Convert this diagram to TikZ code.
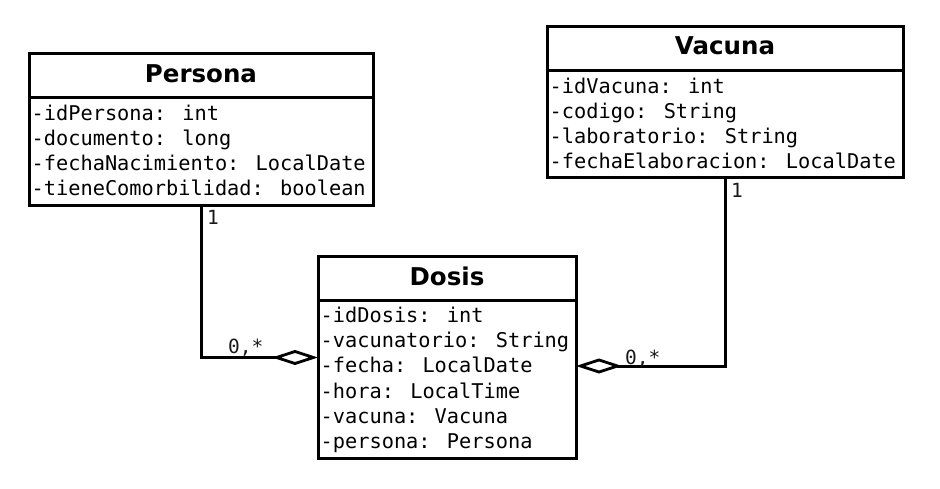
\documentclass[tikz,border=0pt]{standalone}
\usepackage{fontspec}
\newfontfamily\attrfont{DejaVu Sans Mono}
\newfontfamily\titlefont{DejaVu Sans}
\usetikzlibrary{arrows.meta}
\tikzset{
  classbox/.style={draw, line width=3pt, inner sep=0pt, outer sep=0pt, anchor=north west, fill=white},
  divider/.style={line width=3pt},
  ctitle/.style={inner sep=0pt, anchor=base, font=\titlefont\bfseries\fontsize{24.5}{28}\selectfont},
  attr/.style={inner sep=0pt, anchor=base west, font=\attrfont\fontsize{20.3}{25}\selectfont},
  mult/.style={inner sep=0pt, anchor=base west, text=black!90, font=\attrfont\fontsize{19.5}{22}\selectfont},
  assoc/.style={line width=3pt, line join=miter, -{Diamond[open, length=46pt, width=15pt, line width=2.8pt]}}
}
\begin{document}
\begin{tikzpicture}[x=1pt, y=-1pt]
\useasboundingbox[fill=white] (0,0) rectangle (940,489);

% classes
\node[classbox, minimum width=344pt, minimum height=151.5pt] (persona) at (29,54) {};
\node[classbox, minimum width=356pt, minimum height=151pt] (vacuna) at (547,27) {};
\node[classbox, minimum width=258pt, minimum height=201pt] (dosis) at (318,257) {};

% dividers
\foreach \c in {persona, vacuna, dosis}
  \draw[divider] ([yshift=-43.5pt]\c.north west) -- ([yshift=-43.5pt]\c.north east);

% titles
\node[ctitle] (persona-t) at ([yshift=-29pt]persona.north) {Persona};
\node[ctitle] (vacuna-t) at ([yshift=-27.5pt]vacuna.north) {Vacuna};
\node[ctitle] (dosis-t) at ([yshift=-28.5pt]dosis.north) {Dosis};

% attributes
\foreach \t [count=\i] in {-idPersona: int, -documento: long, -fechaNacimiento: LocalDate, -tieneComorbilidad: boolean}
  \node[attr] (persona-a\i) at ([xshift=2.5pt, yshift={-66.5pt-(\i-1)*25pt}]persona.north west) {\t};
\foreach \t [count=\i] in {-idVacuna: int, -codigo: String, -laboratorio: String, -fechaElaboracion: LocalDate}
  \node[attr] (vacuna-a\i) at ([xshift=2.5pt, yshift={-66.5pt-(\i-1)*25pt}]vacuna.north west) {\t};
\foreach \t [count=\i] in {-idDosis: int, -vacunatorio: String, -fecha: LocalDate, -hora: LocalTime, -vacuna: Vacuna, -persona: Persona}
  \node[attr] (dosis-a\i) at ([xshift=2.5pt, yshift={-65.5pt-(\i-1)*25.2pt}]dosis.north west) {\t};

% associations
\draw[assoc] (persona.south) |- (dosis.west);
\draw[assoc] (vacuna.south) |- ([yshift=-8.5pt]dosis.east);

% multiplicities
\node[mult] (persona-m) at ([xshift=6pt, yshift=-19.5pt]persona.south) {1};
\node[mult] (vacuna-m) at ([xshift=6pt, yshift=-19.5pt]vacuna.south) {1};
\node[mult] (dosis-mp) at ([xshift=-90pt, yshift=4.5pt]dosis.west) {0,*};
\node[mult] (dosis-mv) at ([xshift=49pt, yshift=-6.5pt]dosis.east) {0,*};
\end{tikzpicture}
\end{document}
